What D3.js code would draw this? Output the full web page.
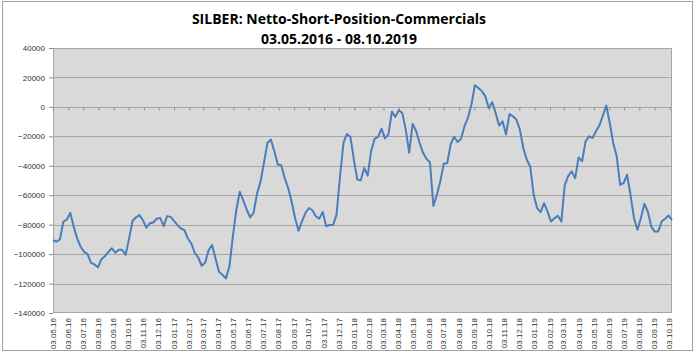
<!DOCTYPE html>
<html lang="de">
<head>
<meta charset="UTF-8">
<title>SILBER: Netto-Short-Position-Commercials</title>
<script src="https://d3js.org/d3.v7.min.js"></script>
<style>
    body { margin: 0; background: #fff; }
    .title { font-family: "Open Sans", "Liberation Sans", sans-serif; font-weight: bold; font-size: 14px; fill: #000; }
    .axis text { font-family: "Liberation Sans", Arial, sans-serif; font-size: 8px; fill: #333; }
    .axis path { display: none; }
    .axis line { stroke: #8c8c8c; }
    .grid line { stroke: #a6a6a6; stroke-width: 1px; }
    .series { fill: none; stroke: #4a7ebb; stroke-width: 2px; stroke-linejoin: round; }
</style>
</head>
<body>
<div id="chart"></div>
<script>
// weekly report dates, starting 03.05.2016
const startDate = "03.05.2016";

// net short position of commercials (contracts), one value per week
const values = [
    -90500, -91600, -90000, -78000, -76500, -72000, -81500, -89500, -95000, -98500,
    -100000, -106000, -107000, -109000, -103500, -101500, -98500, -96000, -99000, -97000,
    -97000, -100500, -89500, -77500, -75000, -73500, -77000, -82000, -79000, -78500,
    -76000, -75400, -81000, -74200, -74700, -77400, -80300, -82600, -83700, -89400,
    -92800, -99100, -102300, -107900, -105900, -97300, -93900, -102900, -112000, -114000,
    -116500, -108600, -88300, -70200, -57700, -63400, -69700, -75100, -72000, -58900,
    -51000, -38000, -24500, -22200, -30100, -39200, -39700, -48300, -55100, -64200,
    -75500, -84100, -77700, -72100, -68700, -70200, -74300, -75900, -71400, -81100,
    -80200, -80200, -73200, -47100, -24500, -18400, -20400, -35800, -49400, -49900,
    -41500, -46700, -30100, -21700, -20300, -14800, -21400, -18700, -3200, -6800,
    -2300, -4100, -15300, -31200, -11400, -16400, -24400, -31200, -35300, -37600,
    -67300, -59700, -50600, -38500, -38300, -25500, -20300, -23900, -21700, -13000,
    -7300, 1600, 14700, 12900, 10700, 7300, -700, 3200, -4100, -12700,
    -9800, -18800, -4800, -6400, -8600, -15400, -27900, -35900, -40400, -59700,
    -68800, -71500, -65400, -71000, -77900, -75600, -74000, -77900, -52900, -46800,
    -43800, -48400, -34300, -37000, -23400, -20000, -21100, -16600, -12700, -5900,
    900, -10900, -24500, -33600, -52900, -51800, -46100, -59700, -75600, -83500,
    -75600, -65800, -71100, -81300, -84700, -84700, -77900, -76000, -73800, -76700
];

const xTickLabels = [
    "03.05.16", "03.06.16", "03.07.16", "03.08.16", "03.09.16", "03.10.16", "03.11.16", "03.12.16",
    "03.01.17", "03.02.17", "03.03.17", "03.04.17", "03.05.17", "03.06.17", "03.07.17", "03.08.17",
    "03.09.17", "03.10.17", "03.11.17", "03.12.17", "03.01.18", "03.02.18", "03.03.18", "03.04.18",
    "03.05.18", "03.06.18", "03.07.18", "03.08.18", "03.09.18", "03.10.18", "03.11.18", "03.12.18",
    "03.01.19", "03.02.19", "03.03.19", "03.04.19", "03.05.19", "03.06.19", "03.07.19", "03.08.19",
    "03.09.19", "03.10.19"
];

const yTicks = [40000, 20000, 0, -20000, -40000, -60000, -80000, -100000, -120000, -140000];

const titleLines = ["SILBER: Netto-Short-Position-Commercials", "03.05.2016 - 08.10.2019"];
const endDate = "08.10.2019";

// layout
const W = 696, H = 354;
const plot = {left: 53, right: 672, top: 48, bottom: 313};

const parseFull = d3.timeParse("%d.%m.%Y");
const parseShort = d3.timeParse("%d.%m.%y");
const t0 = parseFull(startDate);
const data = values.map((v, i) => ({date: d3.timeDay.offset(t0, 7 * i), value: v}));
const tickDates = xTickLabels.map(parseShort);

const svg = d3.select("#chart").append("svg")
    .attr("width", W)
    .attr("height", H);

// outer chart border
svg.append("rect")
    .attr("x", 2.5).attr("y", 1.5)
    .attr("width", 690).attr("height", 349)
    .attr("fill", "#fff")
    .attr("stroke", "#a0a0a0");

const x = d3.scaleTime()
    .domain([t0, parseFull(endDate)])
    .range([plot.left, plot.right]);

const y = d3.scaleLinear()
    .domain([-140000, 40000])
    .range([plot.bottom, plot.top]);

// plot area
svg.append("rect")
    .attr("x", plot.left).attr("y", plot.top)
    .attr("width", plot.right - plot.left)
    .attr("height", plot.bottom - plot.top)
    .attr("fill", "#d9d9d9");

// gridlines
svg.append("g")
    .attr("class", "grid")
    .selectAll("line")
    .data(yTicks.filter(d => d !== 40000 && d !== -140000))
    .enter().append("line")
    .attr("x1", plot.left).attr("x2", plot.right)
    .attr("y1", d => Math.round(y(d)) + 0.5)
    .attr("y2", d => Math.round(y(d)) + 0.5);

// plot border
svg.append("rect")
    .attr("x", plot.left + 0.5).attr("y", plot.top + 0.5)
    .attr("width", plot.right - plot.left - 1)
    .attr("height", plot.bottom - plot.top - 1)
    .attr("fill", "none")
    .attr("stroke", "#a6a6a6");

// y axis
svg.append("g")
    .attr("class", "axis")
    .attr("transform", `translate(${plot.left},0)`)
    .call(d3.axisLeft(y)
        .tickValues(yTicks)
        .tickSize(4)
        .tickPadding(4)
        .tickFormat(d3.format("d")));

// tick marks on the zero line
svg.append("g")
    .attr("class", "axis")
    .attr("transform", `translate(0,${Math.round(y(0)) + 0.5})`)
    .call(d3.axisBottom(x)
        .tickValues(tickDates)
        .tickSize(3)
        .tickFormat(""));

// x labels at the bottom, rotated
svg.append("g")
    .attr("class", "axis")
    .selectAll("text")
    .data(tickDates)
    .enter().append("text")
    .attr("transform", d => `translate(${x(d)},${plot.bottom + 5}) rotate(-90)`)
    .attr("text-anchor", "end")
    .attr("dy", "0.32em")
    .text((d, i) => xTickLabels[i]);

// series
const line = d3.line()
    .x(d => x(d.date))
    .y(d => y(d.value));

svg.append("path")
    .datum(data)
    .attr("class", "series")
    .attr("d", line);

// title
svg.selectAll(".title")
    .data(titleLines)
    .enter().append("text")
    .attr("class", "title")
    .attr("x", 339)
    .attr("y", (d, i) => 24 + i * 20)
    .attr("text-anchor", "middle")
    .text(d => d);
</script>
</body>
</html>
